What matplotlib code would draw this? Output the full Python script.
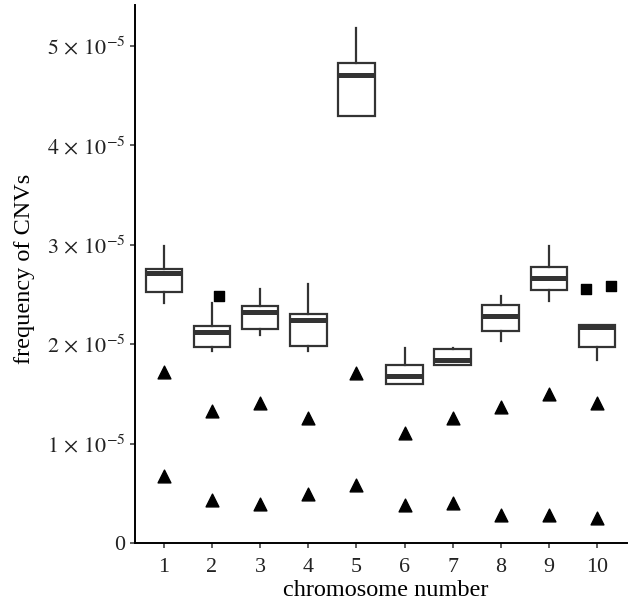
import matplotlib
matplotlib.use("Agg")
import matplotlib.pyplot as plt

plt.rcParams["font.family"] = ["Liberation Serif", "DejaVu Serif"]
plt.rcParams["mathtext.fontset"] = "stix"

# chromosome categories
chromosomes = [1, 2, 3, 4, 5, 6, 7, 8, 9, 10]

# box statistics (units of 1e-5)
whisker_low = [2.41, 1.93, 2.09, 1.93, 4.29, 1.60, 1.79, 2.03, 2.43, 1.84]
q1 = [2.52, 1.97, 2.15, 1.98, 4.29, 1.60, 1.79, 2.13, 2.54, 1.97]
median = [2.72, 2.12, 2.32, 2.24, 4.71, 1.68, 1.84, 2.28, 2.66, 2.17]
q3 = [2.76, 2.18, 2.38, 2.30, 4.83, 1.79, 1.95, 2.39, 2.78, 2.19]
whisker_high = [2.99, 2.41, 2.55, 2.60, 5.18, 1.96, 1.96, 2.48, 2.99, 2.19]

# square points (outliers), with their jitter offsets
square_chrom = [2, 10, 10]
square_jitter = [0.14, -0.23, 0.29]
square_vals = [2.48, 2.55, 2.58]

# triangle points
tri_upper = [1.72, 1.33, 1.41, 1.26, 1.71, 1.11, 1.26, 1.37, 1.50, 1.41]
tri_lower = [0.675, 0.43, 0.39, 0.49, 0.58, 0.38, 0.40, 0.28, 0.28, 0.25]

ytick_vals = [0, 1, 2, 3, 4, 5]
ytick_labels = ["0", r"$1\,\times\,10^{-5}$", r"$2\,\times\,10^{-5}$", r"$3\,\times\,10^{-5}$",
                r"$4\,\times\,10^{-5}$", r"$5\,\times\,10^{-5}$"]

scale = 1e-5

fig = plt.figure(figsize=(6.3, 6.07), dpi=100)
ax = fig.add_axes([0.2143, 0.1054, 0.7807, 0.8864])

stats = []
for i, c in enumerate(chromosomes):
    stats.append({
        "whislo": whisker_low[i] * scale,
        "q1": q1[i] * scale,
        "med": median[i] * scale,
        "q3": q3[i] * scale,
        "whishi": whisker_high[i] * scale,
        "fliers": [],
    })

line_col = "#333333"
ax.bxp(stats, positions=chromosomes, widths=0.76, showcaps=False, showfliers=False,
       patch_artist=True,
       boxprops=dict(facecolor="white", edgecolor=line_col, linewidth=1.6),
       whiskerprops=dict(color=line_col, linewidth=1.6),
       medianprops=dict(color=line_col, linewidth=3.6, solid_capstyle="butt"))

ax.scatter([c + j for c, j in zip(square_chrom, square_jitter)],
           [v * scale for v in square_vals], marker="s", s=62, color="black", zorder=3)
ax.scatter(chromosomes, [v * scale for v in tri_upper], marker="^", s=85,
           color="black", zorder=3)
ax.scatter(chromosomes, [v * scale for v in tri_lower], marker="^", s=85,
           color="black", zorder=3)

ax.set_xlim(0.4, 10.62)
ax.set_ylim(0, 5.41e-5)
ax.set_xticks(chromosomes)
ax.set_xticklabels([str(c) for c in chromosomes])
ax.set_yticks([v * scale for v in ytick_vals])
ax.set_yticklabels(ytick_labels)

for side in ["top", "right"]:
    ax.spines[side].set_visible(False)
for side in ["left", "bottom"]:
    ax.spines[side].set_linewidth(1.4)
    ax.spines[side].set_color("black")

ax.tick_params(axis="both", length=3.6, width=1.1, color="#333333",
               labelsize=15.8, labelcolor="#222222")
ax.tick_params(axis="x", pad=7)
ax.tick_params(axis="y", pad=3.5)
ax.set_xlabel("chromosome number", fontsize=17.5)
ax.set_ylabel("frequency of CNVs", fontsize=17.5)
ax.xaxis.set_label_coords(0.51, -0.068)
ax.yaxis.set_label_coords(-0.203, 0.51)

fig.savefig("out.png", dpi=100)
